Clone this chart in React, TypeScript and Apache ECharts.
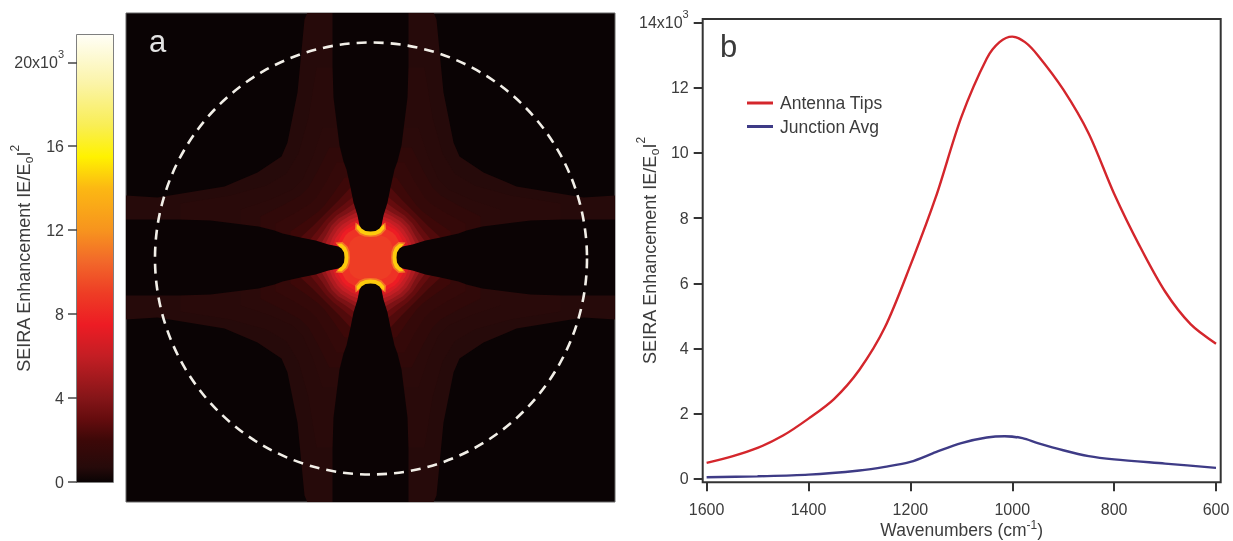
import React, { useEffect, useRef } from "react";
import * as echarts from "echarts";

const FONT = "Liberation Sans";
const TEXT = "#3c3c3c";

// ---------- panel a : colour scale ----------
const scaleStops: [number, string][] = [
  [0, "#0a0304"], [0.7, "#260a0a"], [2, "#3d0808"], [3, "#650c0e"], [4, "#851518"],
  [6, "#c41e24"], [7.5, "#ed1c24"], [9, "#ee3d25"], [10.5, "#f2682a"], [12, "#f7941e"],
  [14, "#fcb813"], [15.5, "#fff200"], [17, "#f9ee55"], [19, "#fbf4a8"], [21.3, "#fffef6"],
];
const scaleMax = 21.3;
const scaleTicks = [0, 4, 8, 12, 16, 20];

// ---------- panel a : iso-contours of the map, one quadrant, distance from the junction centre ----------
const levelValues = [0.7, 0.85, 1, 1.25, 1.5, 2, 2.5, 3, 3.7, 4.5, 5.3, 6, 6.8, 7.5, 8.5, 9];
const levelOutlines: number[][][] = [
  [[245, 0], [245, 62], [213, 60], [146, 71], [113, 85], [89, 101], [83, 115], [73, 165], [66, 238], [63, 245], [0, 245]],
  [[190, 0], [190, 54], [140, 62], [104, 72], [84, 84], [72, 104], [62, 140], [54, 190], [0, 190]],
  [[130, 0], [130, 48], [100, 58], [78, 68], [68, 78], [58, 100], [48, 130], [0, 130]],
  [[110, 0], [110, 41], [88, 52], [70, 62], [62, 70], [52, 88], [41, 110], [0, 110]],
  [[95, 0], [95, 34], [76, 44], [60, 54], [54, 60], [44, 76], [34, 95], [0, 95]],
  [[80, 0], [80, 26], [64, 37], [52, 46], [46, 52], [37, 64], [26, 80], [0, 80]],
  [[70, 0], [70, 20], [58, 31], [48, 41], [41, 48], [31, 58], [20, 70], [0, 70]],
  [[62, 0], [62, 16], [52, 28], [45, 37], [37, 45], [28, 52], [16, 62], [0, 62]],
  [[56, 0], [56, 14], [48, 25], [42, 34], [34, 42], [25, 48], [14, 56], [0, 56]],
  [[50, 0], [50, 13], [44, 23], [39, 32], [32, 39], [23, 44], [13, 50], [0, 50]],
  [[46, 0], [46, 12], [41, 22], [36, 30], [30, 36], [22, 41], [12, 46], [0, 46]],
  [[42, 0], [42, 10], [38, 20], [33, 28], [28, 33], [20, 38], [10, 42], [0, 42]],
  [[39, 0], [39, 9], [35, 19], [30, 26], [26, 30], [19, 35], [9, 39], [0, 39]],
  [[36, 0], [36, 8], [32, 17], [28, 24], [24, 28], [17, 32], [8, 36], [0, 36]],
  [[33, 0], [33, 8], [29, 15], [25, 22], [22, 25], [15, 29], [8, 33], [0, 33]],
  [[24, 0], [23, 8], [20, 16], [16, 20], [8, 23], [0, 24]],
];
// the tip rims and the antenna itself, described for the +x antenna, quadrant y >= 0
const tipValues = [11, 14.5, 0.02];
const tipOutlines: number[][][] = [
  [[20.5, 0], [21, 6], [23, 11], [28, 15.5], [35, 15], [31, 9], [28, 0]],
  [[22, 0], [22.5, 5], [24.5, 10], [29, 14], [33, 13.5], [29, 8], [27, 0]],
  [[26, 0], [26.5, 5], [29, 9], [32, 11], [42, 13], [55, 17], [70, 20], [88, 24], [96, 27], [112, 31], [128, 33], [160, 37], [192, 38], [245, 38], [245, 0]],
];

// ---------- panel b : spectra (x in cm-1, y in thousands) ----------
const xTicks = [1600, 1400, 1200, 1000, 800, 600];
const yTicks = [0, 2, 4, 6, 8, 10, 12, 14];
const antennaWn = [1600, 1550, 1500, 1450, 1400, 1350, 1300, 1250, 1200, 1150, 1100, 1050, 1025, 1000, 975, 950, 900, 850, 800, 750, 700, 650, 600];
const antennaVal = [0.49, 0.69, 0.95, 1.33, 1.85, 2.45, 3.35, 4.65, 6.55, 8.65, 11.1, 12.9, 13.4, 13.57, 13.4, 13.0, 11.95, 10.6, 8.75, 7.15, 5.75, 4.75, 4.15];
const junctionWn = [1600, 1500, 1400, 1300, 1250, 1200, 1150, 1100, 1050, 1015, 980, 950, 900, 850, 800, 700, 600];
const junctionVal = [0.05, 0.08, 0.13, 0.26, 0.37, 0.52, 0.82, 1.1, 1.27, 1.31, 1.25, 1.1, 0.88, 0.7, 0.6, 0.47, 0.34];

function colourOf(v: number): string {
  for (let i = 1; i < scaleStops.length; i++) {
    const [a, ca] = scaleStops[i - 1];
    const [b, cb] = scaleStops[i];
    if (v <= b) return echarts.color.lerp((v - a) / (b - a), [ca, cb]) as string;
  }
  return scaleStops[scaleStops.length - 1][1];
}

// closed polygons in map coordinates, built from the quadrant outlines by mirroring
type Region = { value: number; points: number[][] };
const regions: Region[] = [];
levelOutlines.forEach((q, i) => {
  const points = [
    ...q,
    ...q.slice(0, -1).reverse().map(([x, y]) => [-x, y]),
    ...q.slice(1).map(([x, y]) => [-x, -y]),
    ...q.slice(1, -1).reverse().map(([x, y]) => [x, -y]),
  ];
  regions.push({ value: levelValues[i], points });
});
tipOutlines.forEach((q, i) => {
  const half = [...q, ...q.slice(1, -1).reverse().map(([x, y]) => [x, -y])];
  regions.push({ value: tipValues[i], points: half });
  regions.push({ value: tipValues[i], points: half.map(([x, y]) => [-x, y]) });
  regions.push({ value: tipValues[i], points: half.map(([x, y]) => [y, x]) });
  regions.push({ value: tipValues[i], points: half.map(([x, y]) => [y, -x]) });
});

const richMain = { fontFamily: FONT, fontSize: 16, color: TEXT, lineHeight: 28, verticalAlign: "middle" };
const richSup = { fontFamily: FONT, fontSize: 11, color: TEXT, lineHeight: 12, verticalAlign: "top" };
const rich = { m: richMain, u: richSup };
const richName = {
  m: { ...richMain, fontSize: 18, lineHeight: 30 },
  u: { ...richSup, fontSize: 12, lineHeight: 12 },
  d: { fontFamily: FONT, fontSize: 12, color: TEXT, lineHeight: 12, verticalAlign: "middle", padding: [10, 0, 0, 0] },
};
const richXName = {
  m: { ...richMain, fontSize: 17.5, lineHeight: 21 },
  u: { ...richSup, fontSize: 12, lineHeight: 10 },
};
const seiraName = "{m|SEIRA Enhancement IE/E}{d|o}{m|I}{u|2}";

export default function App() {
  const ref = useRef<HTMLDivElement>(null);
  useEffect(() => {
    document.body.style.margin = "0";
    document.body.style.overflow = "hidden";
    const chart = echarts.init(ref.current!, undefined, { renderer: "svg" });
    const gradient = new echarts.graphic.LinearGradient(
      0, 1, 0, 0,
      scaleStops.map(([v, c]) => ({ offset: v / scaleMax, color: c })),
    );
    chart.setOption({
      animation: false,
      backgroundColor: "#ffffff",
      textStyle: { fontFamily: FONT },
      grid: [
        { left: 77, top: 35, width: 36, height: 447, show: true, borderColor: "#555", borderWidth: 1.5, outerBoundsMode: "none" },
        { left: 126, top: 13, width: 489, height: 489, show: true, backgroundColor: "#0a0304", borderColor: "#666", borderWidth: 1, outerBoundsMode: "none" },
        { left: 702.7, top: 19, width: 518, height: 463.3, show: true, borderColor: "#333", borderWidth: 2, outerBoundsMode: "none" },
      ],
      xAxis: [
        { gridIndex: 0, type: "category", data: ["scale"], show: false },
        { gridIndex: 1, type: "value", min: -244.5, max: 244.5, show: false },
        {
          gridIndex: 2, type: "value", inverse: true, min: 590.8, max: 1607.7, splitLine: { show: false },
          axisLine: { show: false, onZero: false },
          axisTick: { show: true, length: 9, lineStyle: { color: "#333", width: 2 }, customValues: xTicks },
          axisLabel: { customValues: xTicks, margin: 19, fontSize: 16, color: TEXT, fontFamily: FONT, formatter: (v: number) => String(v) },
          name: "{m|Wavenumbers (cm}{u|-1}{m|)}", nameLocation: "middle", nameGap: 37, nameMoveOverlap: false, nameTextStyle: { rich: richXName },
        },
      ],
      yAxis: [
        {
          gridIndex: 0, type: "value", min: 0, max: scaleMax, splitLine: { show: false },
          axisLine: { show: false, onZero: false },
          axisTick: { show: true, length: 9, lineStyle: { color: "#444", width: 1.5 }, customValues: scaleTicks },
          axisLabel: {
            customValues: scaleTicks, margin: 13, color: TEXT, fontSize: 16, fontFamily: FONT,
            formatter: (v: number) => (v === 20 ? "{m|20x10}{u|3}" : "{m|" + v + "}"),
            rich,
          },
          name: seiraName, nameLocation: "middle", nameGap: 38, nameMoveOverlap: false, nameRotate: 90, nameTextStyle: { rich: richName },
        },
        { gridIndex: 1, type: "value", min: -244.5, max: 244.5, show: false },
        {
          gridIndex: 2, type: "value", min: -0.104, max: 14.11, splitLine: { show: false },
          axisLine: { show: false, onZero: false },
          axisTick: { show: true, length: 9, lineStyle: { color: "#333", width: 2 }, customValues: yTicks },
          axisLabel: {
            customValues: yTicks, margin: 14, color: TEXT, fontSize: 16, fontFamily: FONT,
            formatter: (v: number) => (v === 14 ? "{m|14x10}{u|3}" : "{m|" + v + "}"),
            rich,
          },
          name: seiraName, nameLocation: "middle", nameGap: 38, nameMoveOverlap: false, nameRotate: 90, nameTextStyle: { rich: richName },
        },
      ],
      legend: {
        left: 742, top: 89, orient: "vertical", itemWidth: 26, itemHeight: 3, itemGap: 5.5,
        textStyle: { fontFamily: FONT, fontSize: 17.5, color: TEXT, padding: [0, 0, 0, 2] },
        data: [
          { name: "Antenna Tips", icon: "rect", itemStyle: { color: "#d4262c" } },
          { name: "Junction Avg", icon: "rect", itemStyle: { color: "#3e3b86" } },
        ],
      },
      series: [
        {
          type: "bar", xAxisIndex: 0, yAxisIndex: 0, barWidth: "100%", data: [scaleMax], silent: true,
          itemStyle: { color: gradient },
        },
        {
          type: "custom", xAxisIndex: 1, yAxisIndex: 1, silent: true, clip: true,
          data: regions.map((_, i) => [i]), encode: { x: [], y: [] },
          renderItem: (_p: any, api: any) => {
            const region = regions[api.value(0)];
            return {
              type: "polygon",
              shape: { points: region.points.map((p) => api.coord(p)) },
              style: { fill: colourOf(region.value) },
            };
          },
        },
        {
          name: "Antenna Tips", type: "line", xAxisIndex: 2, yAxisIndex: 2, smooth: 0.3, symbol: "none",
          data: antennaWn.map((x, i) => [x, antennaVal[i]]), lineStyle: { color: "#d4262c", width: 2.4 },
        },
        {
          name: "Junction Avg", type: "line", xAxisIndex: 2, yAxisIndex: 2, smooth: 0.3, symbol: "none",
          data: junctionWn.map((x, i) => [x, junctionVal[i]]), lineStyle: { color: "#3e3b86", width: 2.4 },
        },
      ],
      graphic: [
        { type: "circle", z: 100, shape: { cx: 371, cy: 258.5, r: 216 }, style: { fill: "none", stroke: "#f2efe8", lineWidth: 2.6, lineDash: [10, 7] } },
        { type: "text", z: 100, x: 149, y: 26, style: { text: "a", fontFamily: FONT, fontSize: 31, fill: "#e4e4e4" } },
        { type: "text", z: 100, x: 720, y: 31, style: { text: "b", fontFamily: FONT, fontSize: 31, fill: "#3a3a3a" } },
      ],
    });
    return () => chart.dispose();
  }, []);
  return <div ref={ref} style={{ width: 1233, height: 541, filter: "blur(0.5px)" }} />;
}
